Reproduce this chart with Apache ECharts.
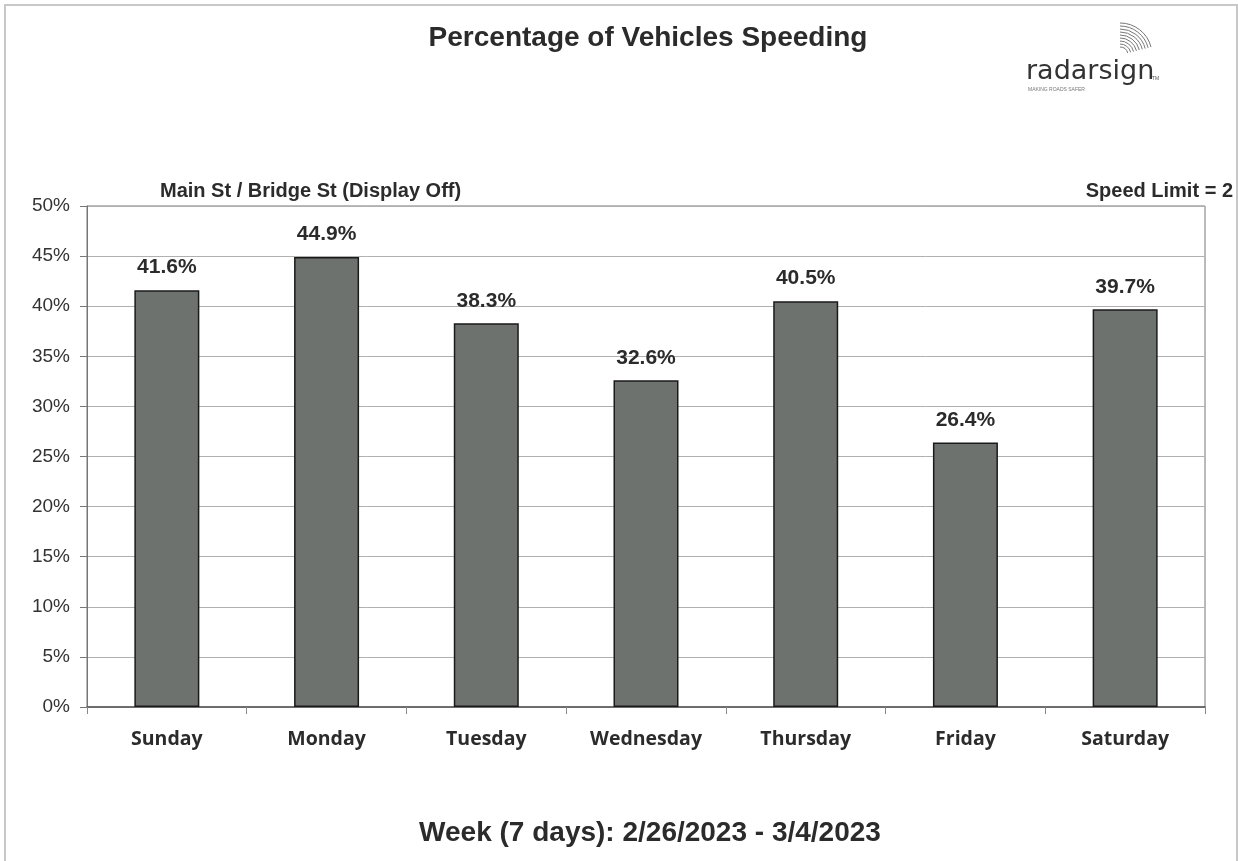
<!DOCTYPE html>
<html><head><meta charset="utf-8">
<script src="https://cdn.jsdelivr.net/npm/echarts@6/dist/echarts.min.js"></script>
<style>html,body{margin:0;padding:0;background:#fff}#c{width:1238px;height:861px}</style>
</head><body><div id="c"></div>
<script>
const days = ['Sunday','Monday','Tuesday','Wednesday','Thursday','Friday','Saturday'];
const pctSpeeding = [41.6, 44.9, 38.3, 32.6, 40.5, 26.4, 39.7];
const yTicks = [0,5,10,15,20,25,30,35,40,45,50];

const chart = echarts.init(document.getElementById('c'), null, {renderer:'canvas'});
const arcs = [];
for (let i = 0; i < 9; i++) {
  arcs.push({type:'arc', shape:{cx:1120, cy:55, r:8 + i*3, startAngle:-Math.PI/2, endAngle:-0.25}, style:{stroke:'#777', lineWidth:1, fill:null}, silent:true});
}
chart.setOption({
  backgroundColor:'#fff',
  animation:false,
  title:{text:'Percentage of Vehicles Speeding', left:643, textAlign:'center', top:19,
    textStyle:{fontFamily:'Liberation Sans, Arial', fontWeight:'bold', fontSize:28, color:'#2b2b2b'}},
  grid:{left:87, right:33, top:206, bottom:154, show:true, borderColor:'#777', borderWidth:1, backgroundColor:'#fff'},
  xAxis:{type:'category', data:days, boundaryGap:true,
    axisLine:{lineStyle:{color:'#555', width:1.5}},
    axisTick:{show:true, length:7, lineStyle:{color:'#888'}},
    axisLabel:{fontFamily:'Open Sans, DejaVu Sans', fontWeight:'bold', fontSize:19.5, color:'#2b2b2b', margin:22}},
  yAxis:{type:'value', min:0, max:50, interval:5,
    axisLine:{show:true, lineStyle:{color:'#777'}},
    axisTick:{show:true, length:7, lineStyle:{color:'#777'}},
    splitLine:{lineStyle:{color:'#b0b0b0', width:1}},
    axisLabel:{formatter:v => yTicks.includes(v) ? v + '%' : '', fontFamily:'Liberation Sans, Arial', fontSize:19, color:'#333', margin:17}},
  series:[{type:'bar', data:pctSpeeding, barWidth:65,
    itemStyle:{color:'#6d726f', borderColor:'#1a1a1a', borderWidth:1.5},
    label:{show:true, position:'top', distance:12, formatter:p => p.value.toFixed(1) + '%',
      fontFamily:'Liberation Sans, Arial', fontWeight:'bold', fontSize:21, color:'#2b2b2b'}}],
  graphic:[
    {type:'rect', shape:{x:5, y:5, width:1232, height:860}, style:{fill:null, stroke:'#c8c8c8', lineWidth:2}, silent:true},
    {type:'text', x:160, y:181, style:{text:'Main St / Bridge St (Display Off)', font:'bold 20px "Liberation Sans", Arial', fill:'#2b2b2b'}},
    {type:'text', x:1233, y:181, style:{text:'Speed Limit = 2', textAlign:'right', font:'bold 20px "Liberation Sans", Arial', fill:'#2b2b2b'}},
    {type:'text', x:650, y:819, style:{text:'Week (7 days): 2/26/2023 - 3/4/2023', textAlign:'center', font:'bold 28px "Liberation Sans", Arial', fill:'#2b2b2b'}},
    {type:'text', x:1026, y:58, style:{text:'radarsign', font:'27px "DejaVu Sans", sans-serif', fill:'#333'}},
    {type:'text', x:1152, y:76, style:{text:'TM', font:'5px sans-serif', fill:'#555'}},
    {type:'text', x:1028, y:87, style:{text:'MAKING ROADS SAFER', font:'5px sans-serif', fill:'#777'}},
    ...arcs
  ]
});
</script></body></html>
